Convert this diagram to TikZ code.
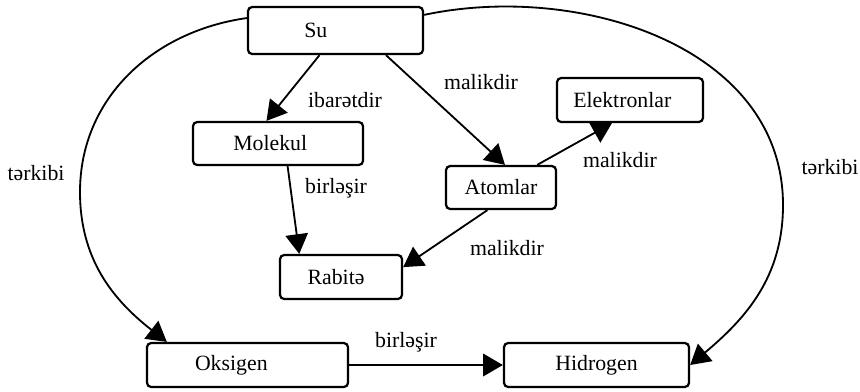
\documentclass[tikz,border=0pt]{standalone}
\usepackage{fontspec}
\setmainfont{Liberation Serif}
\usetikzlibrary{arrows.meta}

\begin{document}
\begin{tikzpicture}[x=0.025cm, y=0.025cm,
box_style/.style={draw=black, line width=1.6pt, rounded corners=3pt, fill=white, inner sep=0pt, minimum height=1.1cm, font=\fontsize{15.5}{18}\selectfont},
edge_style/.style={draw=black, line width=1.3pt, -{Triangle[length=14pt,width=16pt]}},
label_style/.style={font=\fontsize{15.5}{18}\selectfont}]
\useasboundingbox (0,0) rectangle (860,-391);

\node[box_style, minimum width=4.375cm, minimum height=1.175cm] (s) at (335.5,-30.5) {Su\hspace*{28pt}};
\node[box_style, minimum width=4.25cm, minimum height=1.075cm] (m) at (278,-143.5) {Molekul\hspace*{11pt}};
\node[box_style, minimum width=2.75cm, minimum height=1.075cm] (a) at (501,-187.5) {Atomlar};
\node[box_style, minimum width=3.65cm] (e) at (630,-100) {Elektronlar\hspace*{11pt}};
\node[box_style, minimum width=3.05cm] (r) at (341,-277) {Rabitə\hspace*{7pt}};
\node[box_style, minimum width=5.025cm] (o) at (247.5,-365) {Oksigen\hspace*{23pt}};
\node[box_style, minimum width=4.625cm] (h) at (596.5,-365) {Hidrogen};

\coordinate (lside) at (80,-192);
\coordinate (rside) at (783,-205);

\draw[edge_style] (s.237) -- (m.117);
\draw[edge_style] (s.-26) -- (a.80);
\draw[edge_style] (a.32) -- (e.232);
\draw[edge_style] (a.239) -- (r.9);
\draw[edge_style] (m.-67) -- (r.151);
\draw[edge_style] (o) -- (h);
\draw[edge_style] (s.172) to[out=188, in=90] (lside) to[out=-90, in=142] (o.164);
\draw[edge_style] (s.10) to[out=12, in=90] (rside) to[out=-90, in=40] (h.east);

\node[label_style] (l1) at (345,-100) {ibarətdir};
\node[label_style] (l2) at (481,-82) {malikdir};
\node[label_style] (l3) at (620,-160) {malikdir};
\node[label_style] (l4) at (507,-248) {malikdir};
\node[label_style] (l5) at (336,-188) {birləşir};
\node[label_style] (l6) at (406,-342) {birləşir};
\node[label_style] (l7) at (36,-173) {tərkibi};
\node[label_style] (l8) at (830,-167) {tərkibi};

\end{tikzpicture}
\end{document}
